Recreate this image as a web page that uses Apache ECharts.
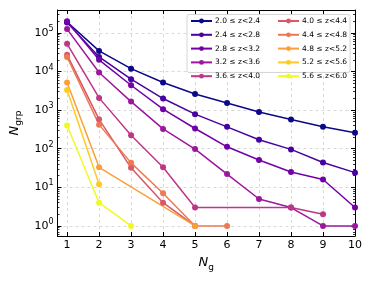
<!DOCTYPE html>
<html><head><meta charset="utf-8">
<script src="https://cdn.jsdelivr.net/npm/echarts@6/dist/echarts.min.js"></script>
<style>html,body{margin:0;padding:0;background:#fff}#c{width:373px;height:282px}</style>
</head><body><div id="c"></div>
<script>
const ng = [1, 2, 3, 4, 5, 6, 7, 8, 9, 10];
const names = ['2.0 \u2264 z<2.4','2.4 \u2264 z<2.8','2.8 \u2264 z<3.2','3.2 \u2264 z<3.6','3.6 \u2264 z<4.0',
               '4.0 \u2264 z<4.4','4.4 \u2264 z<4.8','4.8 \u2264 z<5.2','5.2 \u2264 z<5.6','5.6 \u2264 z<6.0'];
const colors = ['#0d0887','#46039f','#7201a8','#9c179e','#bd3786','#d8576b','#ed7953','#fb9f3a','#fdca26','#f0f921'];
const s20 = [190000, 34000, 11800, 5170, 2620, 1520, 890, 570, 370, 260];
const s24 = [185000, 23700, 6300, 1990, 784, 368, 170, 96, 44, 24];
const s28 = [198000, 20000, 4400, 1055, 334, 112, 51, 25, 16, 3];
const s32 = [125000, 9400, 1660, 326, 98, 22, 5, 3, 1, 1];
const s36 = [52000, 2070, 222, 33, 3, null, null, 3, 2, null];
const s40 = [27000, 575, 32, 4, 1, null, null, null, null, null];
const s44 = [23700, 420, 43, 7, 1, 1, null, null, null, null];
const s48 = [5200, 33, null, null, 1, null, null, null, null, null];
const s52 = [3300, 12, null, null, null, null, null, null, null, null];
const s56 = [400, 4, 1, null, null, null, null, null, null, null];
const allSeries = [s20, s24, s28, s32, s36, s40, s44, s48, s52, s56];

const YMIN = 0.55, YMAX = 3.9e5, XMIN = 0.7, XMAX = 10;
const FONT = 'DejaVu Sans';
const minorVals = [];
for (let d = -1; d <= 5; d++) for (let k = 2; k <= 9; k++) {
  const v = k * Math.pow(10, d);
  if (v > YMIN && v < YMAX) minorVals.push(v);
}
function supLabel(v) {
  const e = Math.log10(v), r = Math.round(e);
  if (Math.abs(e - r) > 1e-6) return '';
  return '{b|10}{s|' + r + '}';
}
const axLine = {show: true, lineStyle: {color: '#000', width: 1}};
const chart = echarts.init(document.getElementById('c'), null, {renderer: 'canvas'});
const series = allSeries.map((vals, i) => ({
  name: names[i], type: 'line', xAxisIndex: 0, yAxisIndex: 0,
  data: ng.map((x, j) => [x, vals[j] == null ? '-' : vals[j]]),
  connectNulls: true, symbol: 'circle', symbolSize: 6, showSymbol: true,
  lineStyle: {width: 1.5, color: colors[i]}, itemStyle: {color: colors[i]},
  animation: false
}));
const legendBase = {orient: 'vertical', top: 17, itemWidth: 21, itemHeight: 6, itemGap: 5.8, padding: 0,
  textStyle: {fontSize: 7.5, fontFamily: FONT, color: '#000', lineHeight: 6, padding: [0,0,0,-2]}, z: 5};
chart.setOption({
  animation: false,
  textStyle: {fontFamily: FONT},
  grid: {left: 56, right: 18, top: 10, bottom: 46, containLabel: false},
  xAxis: [
    {type: 'value', min: XMIN, max: XMAX, splitNumber: 10, position: 'bottom',
     axisLine: axLine, axisTick: {show: true, inside: true, length: 4, lineStyle: {color: '#000'}},
     axisLabel: {fontSize: 11, color: '#000', fontFamily: FONT, margin: 4,
       formatter: v => (Math.abs(v - Math.round(v)) < 1e-6 ? String(Math.round(v)) : '')},
     splitLine: {show: true, lineStyle: {color: '#d0d0d0', type: [3, 3], width: 0.8}},
     name: '{i|N}{sub|g}', nameLocation: 'middle', nameGap: 18,
     nameTextStyle: {rich: {i: {fontSize: 13, fontStyle: 'italic', fontFamily: FONT, color: '#000', lineHeight: 18, verticalAlign: 'middle'},
                             sub: {fontSize: 9, fontFamily: FONT, color: '#000', lineHeight: 9, verticalAlign: 'bottom'}}}},
    {type: 'value', min: XMIN, max: XMAX, splitNumber: 10, position: 'top',
     axisLine: axLine, axisTick: {show: true, inside: true, length: 4, lineStyle: {color: '#000'}},
     axisLabel: {show: false}, splitLine: {show: false}}
  ],
  yAxis: [
    {type: 'log', logBase: 10, min: YMIN, max: YMAX, position: 'left',
     axisLine: axLine, axisTick: {show: true, inside: true, length: 4, lineStyle: {color: '#000'}},
     axisLabel: {formatter: supLabel, margin: 4, color: '#000',
       rich: {b: {fontSize: 11, fontFamily: FONT, color: '#000', lineHeight: 16, verticalAlign: 'middle'},
              s: {fontSize: 8, fontFamily: FONT, color: '#000', lineHeight: 8, verticalAlign: 'top'}}},
     splitLine: {show: true, lineStyle: {color: '#d0d0d0', type: [3, 3], width: 0.8}},
     name: '{i|N}{sub|grp}', nameLocation: 'middle', nameGap: 27, nameRotate: 90,
     nameTextStyle: {rich: {i: {fontSize: 13, fontStyle: 'italic', fontFamily: FONT, color: '#000', lineHeight: 18, verticalAlign: 'middle'},
                             sub: {fontSize: 9, fontFamily: FONT, color: '#000', lineHeight: 9, verticalAlign: 'bottom'}}}},
    {type: 'log', logBase: 10, min: YMIN, max: YMAX, position: 'left',
     axisLine: {show: false}, axisTick: {show: true, inside: true, length: 2, customValues: minorVals, lineStyle: {color: '#000', width: 0.8}},
     axisLabel: {show: false}, splitLine: {show: false}},
    {type: 'log', logBase: 10, min: YMIN, max: YMAX, position: 'right',
     axisLine: axLine, axisTick: {show: true, inside: true, length: 4, lineStyle: {color: '#000'}},
     axisLabel: {show: false}, splitLine: {show: false}},
    {type: 'log', logBase: 10, min: YMIN, max: YMAX, position: 'right',
     axisLine: {show: false}, axisTick: {show: true, inside: true, length: 2, customValues: minorVals, lineStyle: {color: '#000', width: 0.8}},
     axisLabel: {show: false}, splitLine: {show: false}}
  ],
  legend: [
    Object.assign({}, legendBase, {left: 190, data: names.slice(0, 5)}),
    Object.assign({}, legendBase, {left: 277, data: names.slice(5)})
  ],
  graphic: [{type: 'rect', z: 3, shape: {x: 187, y: 14.5, width: 163, height: 58, r: 2},
    style: {fill: 'rgba(255,255,255,0.85)', stroke: '#cccccc', lineWidth: 0.8}}],
  series: series
});
</script></body></html>
